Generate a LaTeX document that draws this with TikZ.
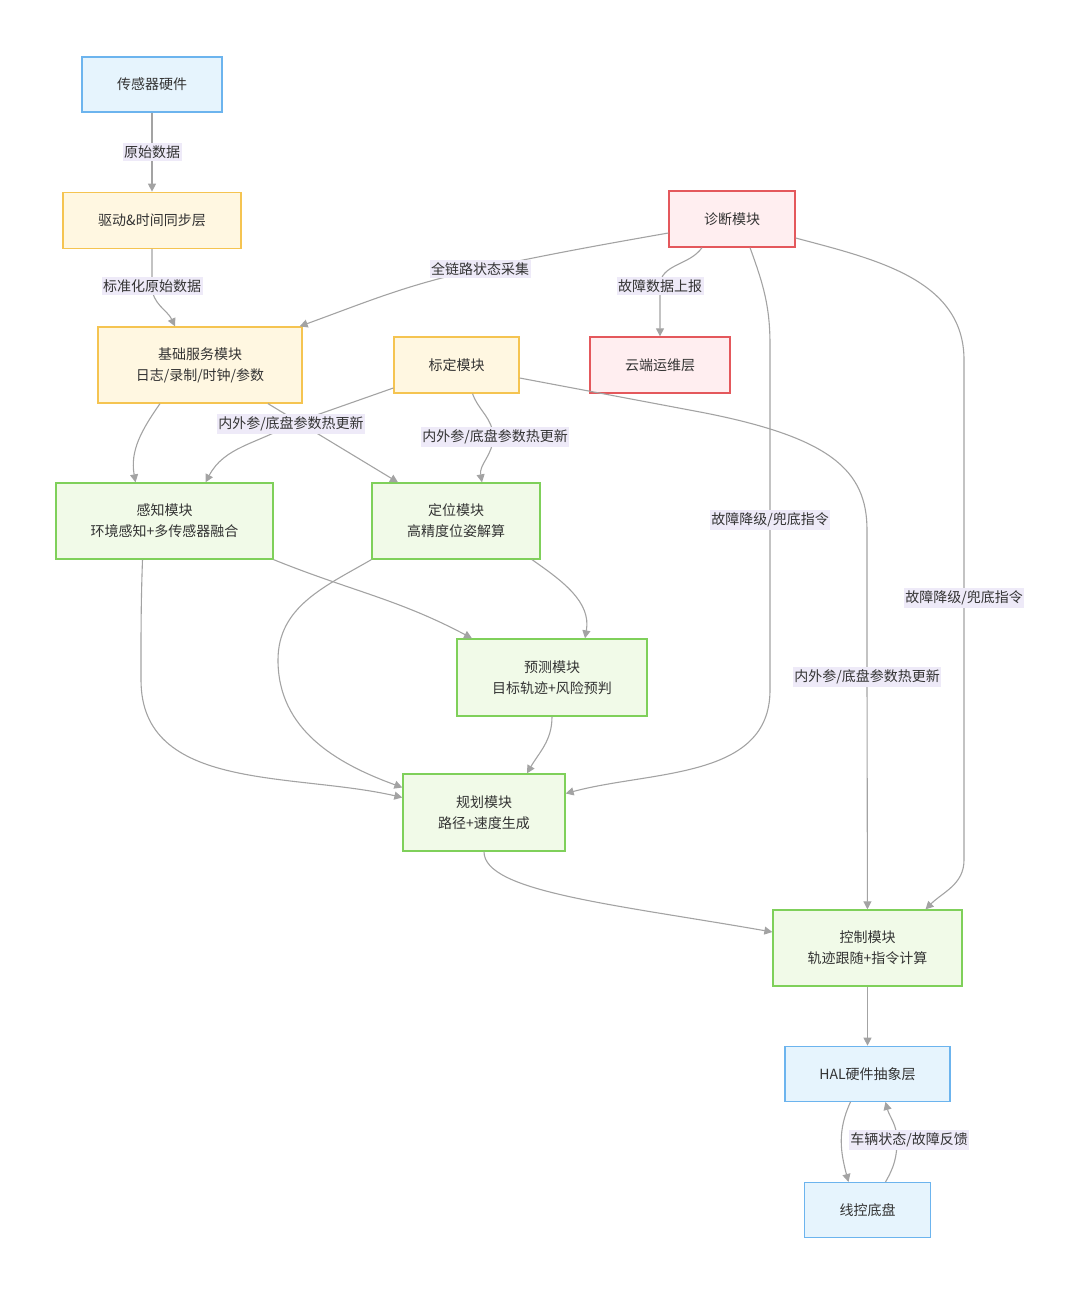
\documentclass[tikz,border=0pt]{standalone}
\usepackage{fontspec}
\setmainfont{Noto Sans CJK SC}
\usetikzlibrary{positioning, arrows.meta}
\definecolor{hwfill}{HTML}{E6F4FD}
\definecolor{hwline}{HTML}{6CB4EE}
\definecolor{drvfill}{HTML}{FFF7E1}
\definecolor{drvline}{HTML}{F5C451}
\definecolor{diagfill}{HTML}{FFEEF0}
\definecolor{diagline}{HTML}{E4585C}
\definecolor{algfill}{HTML}{F1FAE8}
\definecolor{algline}{HTML}{7FD05A}
\definecolor{lblfill}{HTML}{EEEAF8}
\definecolor{linkgray}{HTML}{A3A3A3}
\definecolor{txt}{HTML}{333333}

\begin{document}
\begin{tikzpicture}[x=1pt, y=1pt,
    every node/.style={text=txt, font=\fontsize{14}{21}\selectfont, align=center, inner sep=0pt},
    box/.style={rectangle, draw, line width=1.3pt, minimum height=56pt},
    hwbox/.style={box, fill=hwfill, draw=hwline},
    drvbox/.style={box, fill=drvfill, draw=drvline},
    diagbox/.style={box, fill=diagfill, draw=diagline},
    algbox/.style={box, fill=algfill, draw=algline, minimum height=76pt},
    lbl/.style={fill=lblfill, inner xsep=1.5pt, inner ysep=2.5pt},
    link/.style={draw=linkgray, line width=1.1pt, -{Triangle[length=8pt,width=8pt]}}]
    \useasboundingbox (0,0) rectangle (1080,-1292);
    \node[hwbox, minimum width=140pt, minimum height=55pt] (sensor) at (152,-84.5) {传感器硬件};
    \node[drvbox, minimum width=178pt, below=79pt of sensor] (driver) {驱动\&时间同步层};
    \node[drvbox, minimum width=204pt, minimum height=76pt] (base) at (200,-365) {基础服务模块\\日志/录制/时钟/参数};
    \node[drvbox, minimum width=125pt] (calib) at (456.5,-365) {标定模块};
    \node[diagbox, minimum width=126pt] (diag) at (732,-219) {诊断模块};
    \node[diagbox, minimum width=140pt] (cloud) at (660,-365) {云端运维层};
    \node[algbox, minimum width=217pt] (percep) at (164.5,-521) {感知模块\\环境感知+多传感器融合};
    \node[algbox, minimum width=168pt] (loc) at (456,-521) {定位模块\\高精度位姿解算};
    \node[algbox, minimum width=190pt, minimum height=77pt] (pred) at (552,-677.5) {预测模块\\目标轨迹+风险预判};
    \node[algbox, minimum width=162pt, minimum height=77pt] (plan) at (484,-812.5) {规划模块\\路径+速度生成};
    \node[algbox, minimum width=189pt] (ctrl) at (867.5,-948) {控制模块\\轨迹跟随+指令计算};
    \node[hwbox, minimum width=165pt, minimum height=55pt, below=59pt of ctrl] (hal) {HAL硬件抽象层};
    \node[hwbox, minimum width=126pt, minimum height=55pt, below=80pt of hal] (chassis) {线控底盘};
    \draw[link] ([xshift=-40pt]base.south) to[out=-125,in=100] ([xshift=-29pt]percep.north);
    \draw[link] ([xshift=68pt]base.south) -- ([xshift=-58pt]loc.north);
    \draw[link] (percep.south east) to[out=-22,in=152] ([xshift=-80pt]pred.north);
    \draw[link] ([xshift=-22pt]percep.south) to[out=-92,in=90] (141,-680) to[out=-90,in=167] ([yshift=15pt]plan.west);
    \draw[link] (loc.south west) to[out=-150,in=90] (278,-660) to[out=-90,in=160] ([yshift=25pt]plan.west);
    \draw[link] ([xshift=76pt]loc.south) to[out=-35,in=80] ([xshift=33pt]pred.north);
    \draw[link] (pred.south) to[out=-90,in=60] ([xshift=43pt]plan.north);
    \draw[link] (plan.south) .. controls +(0,-40) and +(-160,28) .. ([yshift=16pt]ctrl.west);
    \draw[link] (ctrl) -- (hal);
    \draw[link] ([xshift=-17pt]hal.south) to[out=-115,in=105] ([xshift=-19pt]chassis.north);
    \draw[link] (sensor) -- node[lbl] (lRaw) {原始数据} (driver);
    \draw[link] (driver.south) -- (152,-286) node[lbl] (lStd) {标准化原始数据} to[out=-90,in=115] ([xshift=-25pt]base.north);
    \draw[link] ([yshift=-14pt]diag.west) to[out=190,in=12] (480,-269) node[lbl] (lAll) {全链路状态采集} to[out=192,in=20] ([xshift=-3pt]base.north east);
    \draw[link] ([xshift=-30pt]diag.south) to[out=-125,in=90] (660,-286) node[lbl] (lFault) {故障数据上报} -- (cloud);
    \draw[link] ([xshift=18pt]diag.south) to[out=-70,in=90] (770,-345) -- (770,-520) node[lbl] (lDeg1) {故障降级/兜底指令} -- (770,-690) to[out=-90,in=15] ([yshift=19pt]plan.east);
    \draw[link] ([yshift=-19pt]diag.east) to[out=-15,in=90] (964,-360) -- (964,-598) node[lbl] (lDeg2) {故障降级/兜底指令} -- (964,-860) to[out=-90,in=45] ([xshift=58pt]ctrl.north);
    \draw[link] ([yshift=-23pt]calib.west) -- (291,-424) node[lbl] (lHot1) {内外参/底盘参数热更新} to[out=-150,in=62] ([xshift=41pt]percep.north);
    \draw[link] ([xshift=16pt]calib.south) to[out=-70,in=90] (493,-437) node[lbl, xshift=2pt] (lHot2) {内外参/底盘参数热更新} to[out=-90,in=100] ([xshift=26pt]loc.north);
    \draw[link] ([yshift=-13pt]calib.east) -- (700,-412) .. controls (830,-437) and (867,-470) .. (867,-530) -- (867,-677) node[lbl] (lHot3) {内外参/底盘参数热更新} -- (ctrl);
    \draw[link] ([xshift=18pt]chassis.north) to[out=60,in=-90] (897,-1140) node[lbl, xshift=12pt] (lFb) {车辆状态/故障反馈} to[out=90,in=-75] ([xshift=18pt]hal.south);
\end{tikzpicture}
\end{document}
